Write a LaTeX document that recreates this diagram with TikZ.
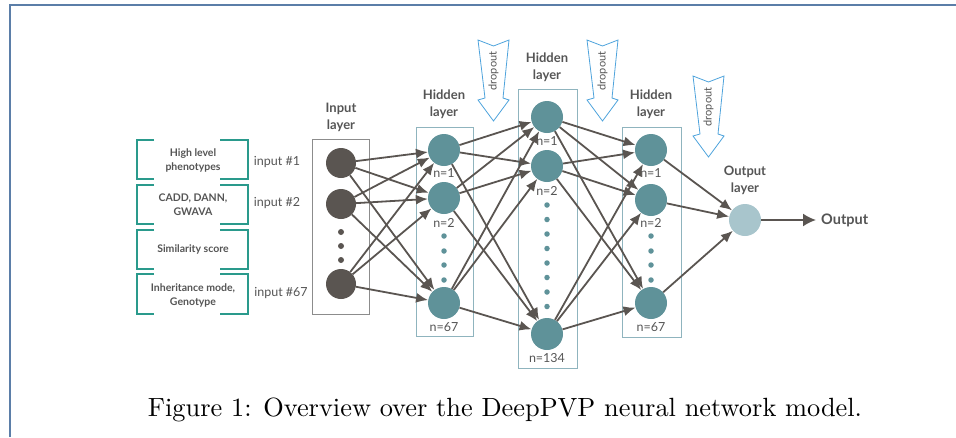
\documentclass[tikz,border=0pt]{standalone}
\usepackage{fontspec}
\newfontfamily\lato{Lato}
\usetikzlibrary{arrows.meta}
\definecolor{framecol}{RGB}{91,126,168}
\definecolor{tealc}{RGB}{42,154,140}
\definecolor{darknode}{RGB}{90,85,81}
\definecolor{hidnode}{RGB}{95,146,153}
\definecolor{outnode}{RGB}{168,197,204}
\definecolor{inboxc}{RGB}{140,140,140}
\definecolor{hidboxc}{RGB}{143,180,190}
\definecolor{dropc}{RGB}{78,163,220}
\definecolor{txtgray}{RGB}{85,85,85}
\begin{document}
\begin{tikzpicture}[x=1pt,y=-1pt,
  innode/.style={circle,fill=darknode,minimum size=30pt,inner sep=0pt},
  hnode/.style={circle,fill=hidnode,minimum size=32pt,inner sep=0pt},
  onode/.style={circle,fill=outnode,minimum size=32pt,inner sep=0pt},
  indot/.style={circle,fill=darknode,minimum size=6pt,inner sep=0pt},
  hdot/.style={circle,fill=hidnode,minimum size=5.5pt,inner sep=0pt},
  conn/.style={draw=darknode,line width=1.8pt,-{Latex[length=12pt,width=10pt]}},
  layerbox/.style={line width=1pt,inner sep=0pt},
  laytxt/.style={font=\lato\bfseries\fontsize{13}{17}\selectfont,text=txtgray,align=center},
  ntxt/.style={font=\lato\fontsize{12.5}{14}\selectfont,text=txtgray},
  intxt/.style={font=\lato\fontsize{12.5}{14}\selectfont,text=txtgray},
  boxtxt/.style={font=\lato\bfseries\fontsize{10.5}{14}\selectfont,text=txtgray,align=center},
  bracket/.style={draw=tealc,line width=1.8pt},
  dropshape/.style={draw=dropc,line width=0.8pt,line join=miter},
  droptxt/.style={font=\lato\fontsize{11}{12}\selectfont,text=txtgray,rotate=90}]
\useasboundingbox (0,0) rectangle (956,437);
% frame
\draw[framecol,line width=2pt] (10,437) -- (10,5) -- (956,5);

% feature boxes
\foreach \t/\b/\nm in {140/179/fa,185/224/fb,230/269/fc,274/314/fd}{
  \draw[bracket] (154,\t) -- (137,\t) -- (137,\b) -- (154,\b);
  \draw[bracket] (220,\t) -- (248,\t) -- (248,\b) -- (220,\b);
}
\node[boxtxt] (fa) at (193,160) {High level\\phenotypes};
\node[boxtxt] (fb) at (193,204.5) {CADD, DANN,\\GWAVA};
\node[boxtxt] (fc) at (193,249) {Similarity score};
\node[boxtxt] (fd) at (193,295) {Inheritance mode,\\Genotype};

\node[intxt] (l1) at (277,162) {input \#1};
\node[intxt] (l2) at (277,203) {input \#2};
\node[intxt] (l3) at (281,293) {input \#67};

% layer boxes
\node[layerbox,draw=inboxc,minimum width=57pt,minimum height=175pt] (bin) at (340.5,226.5) {};
\node[layerbox,draw=hidboxc,minimum width=57pt,minimum height=209pt] (bh1) at (444.5,231.5) {};
\node[layerbox,draw=hidboxc,minimum width=59pt,minimum height=279pt] (bh2) at (547.5,228.5) {};
\node[layerbox,draw=hidboxc,minimum width=59pt,minimum height=210pt] (bh3) at (651.5,232) {};

% layer titles
\node[laytxt] (tin) at (341,117) {Input\\layer};
\node[laytxt] (th1) at (444,104) {Hidden\\layer};
\node[laytxt] (th2) at (547,67) {Hidden\\layer};
\node[laytxt] (th3) at (651,104) {Hidden\\layer};
\node[laytxt] (tout) at (745,180) {Output\\layer};

% input nodes
\node[innode] (i1) at (341,163) {};
\node[innode] (i2) at (341,204) {};
\node[innode] (i3) at (341,284) {};
\foreach \y [count=\k] in {232,246,260} \node[indot] (id\k) at (341,\y) {};

% hidden 1
\node[hnode] (a1) at (444,150) {};
\node[hnode] (a2) at (444,198) {};
\node[hnode] (a3) at (444,303) {};
\node[ntxt] (na1) at (444,173) {n=1};
\node[ntxt] (na2) at (444,223) {n=2};
\node[ntxt] (na3) at (444,327) {n=67};
\foreach \y [count=\k] in {236,251,265,280} \node[hdot] (ad\k) at (444,\y) {};

% hidden 2
\node[hnode] (b1) at (547,117) {};
\node[hnode] (b2) at (547,166) {};
\node[hnode] (b3) at (547,334) {};
\node[ntxt] (nb1) at (547,141) {n=1};
\node[ntxt] (nb2) at (547,191) {n=2};
\node[ntxt] (nb3) at (547,358) {n=134};
\foreach \y [count=\k] in {205,219.5,234,248.5,263,277.5,292,306.5} \node[hdot] (bd\k) at (547,\y) {};

% hidden 3
\node[hnode] (c1) at (651,150) {};
\node[hnode] (c2) at (651,200) {};
\node[hnode] (c3) at (651,303) {};
\node[ntxt] (nc1) at (651,173) {n=1};
\node[ntxt] (nc2) at (651,223) {n=2};
\node[ntxt] (nc3) at (651,327) {n=67};
\foreach \y [count=\k] in {236,251,265,280} \node[hdot] (cd\k) at (651,\y) {};

% output
\node[onode] (o) at (745,220) {};
\node[font=\lato\bfseries\fontsize{14.5}{16}\selectfont,text=txtgray,anchor=west,inner xsep=5pt] (otxt) at (816,220) {Output};

% connections
\foreach \s in {i1,i2,i3}{\foreach \d in {a1,a2,a3}{\draw[conn] (\s) -- (\d);}}
\foreach \s in {a1,a2,a3}{\foreach \d in {b1,b2,b3}{\draw[conn] (\s) -- (\d);}}
\foreach \s in {b1,b2,b3}{\foreach \d in {c1,c2,c3}{\draw[conn] (\s) -- (\d);}}
\foreach \s in {c1,c2,c3}{\draw[conn] (\s) -- (o);}
\draw[draw=darknode,line width=1.8pt,-{Latex[length=13pt,width=13pt]}] (o) -- (otxt.west);

% dropout arrows
\foreach \x/\y/\nm in {478/40/d1,587/40/d2,693/76/d3}{
  \draw[dropshape,shift={(\x,\y)}] (0,0) -- (15.5,6) -- (31,0) -- (25,58) -- (31,60) -- (15.5,81) -- (0,60) -- (7,58) -- cycle;
  \node[droptxt] (\nm) at (\x+15.5,\y+31) {dropout};
}

% caption
\node[anchor=base] (cap) at (505,416) {\resizebox{714pt}{!}{Figure 1: Overview over the DeepPVP neural network model.}};
\end{tikzpicture}
\end{document}
